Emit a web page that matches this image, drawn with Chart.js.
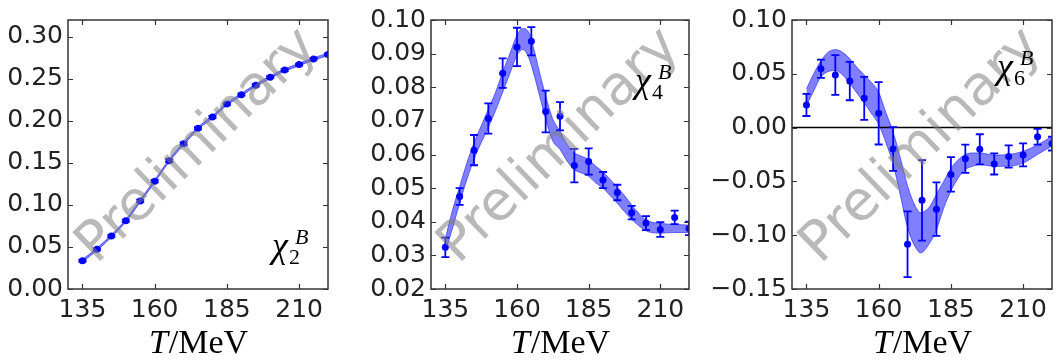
<!DOCTYPE html>
<html>
<head>
<meta charset="utf-8">
<script src="https://cdn.jsdelivr.net/npm/chart.js@4.4.1/dist/chart.umd.min.js"></script>
<style>
  body { margin: 0; background: #fff; }
  #wrap { position: relative; width: 1061px; height: 364px; overflow: hidden; }
  canvas { position: absolute; top: 0; }
</style>
</head>
<body>
<div id="wrap">
  <canvas id="c2b" width="340" height="364" style="left:0px"></canvas>
  <canvas id="c4b" width="355" height="364" style="left:340px"></canvas>
  <canvas id="c6b" width="366" height="364" style="left:695px"></canvas>
</div>
<script>
// temperatures of the lattice points (MeV)
let temps = [135, 140, 145, 150, 155, 160, 165, 170, 175, 180, 185, 190, 195, 200, 205, 210, 215, 220];

let xTicks = [135, 160, 185, 210];

// chi2
let chi2Vals = [0.0336, 0.0472, 0.0630, 0.0812, 0.1048, 0.1283, 0.1527, 0.1728, 0.1913, 0.2045, 0.2200, 0.2312, 0.2424, 0.2520, 0.2605, 0.2670, 0.2737, 0.2790];
let chi2Errs = [0.0012, 0.0012, 0.0012, 0.0013, 0.0015, 0.0015, 0.0015, 0.0015, 0.0013, 0.0013, 0.0012, 0.0012, 0.0012, 0.0012, 0.0012, 0.0012, 0.0012, 0.0012];
let chi2BandLow = [0.0322, 0.0457, 0.0615, 0.0797, 0.1032, 0.1268, 0.1512, 0.1713, 0.1898, 0.2030, 0.2185, 0.2297, 0.2409, 0.2505, 0.2590, 0.2655, 0.2722, 0.2775];
let chi2BandHigh = [0.0350, 0.0487, 0.0645, 0.0827, 0.1064, 0.1298, 0.1542, 0.1743, 0.1928, 0.2060, 0.2215, 0.2327, 0.2439, 0.2535, 0.2620, 0.2685, 0.2752, 0.2805];
let chi2Ticks = [0, 0.05, 0.10, 0.15, 0.20, 0.25, 0.30];
let chi2TickLabels = ["0.00", "0.05", "0.10", "0.15", "0.20", "0.25", "0.30"];

// chi4
let chi4Vals = [0.0324, 0.0475, 0.0613, 0.0707, 0.0842, 0.0920, 0.0937, 0.0728, 0.0714, 0.0567, 0.0579, 0.0524, 0.0487, 0.0427, 0.0396, 0.0377, 0.0413, 0.0380];
let chi4Errs = [0.0029, 0.0025, 0.0045, 0.0045, 0.0044, 0.0057, 0.0042, 0.0062, 0.0042, 0.0050, 0.0039, 0.0024, 0.0023, 0.0020, 0.0021, 0.0022, 0.0020, 0.0020];
let chi4BandT = [135, 137.5, 140, 142.5, 145, 147.5, 150, 152.5, 155, 157.5, 160, 162, 164, 166, 168, 170, 172.5, 175, 177.5, 180, 182.5, 185, 187.5, 190, 192.5, 195, 197.5, 200, 202.5, 205, 207.5, 210, 215, 220];
let chi4BandLow = [0.0310, 0.0380, 0.0455, 0.0525, 0.0585, 0.0635, 0.0680, 0.0730, 0.0785, 0.0840, 0.0895, 0.0912, 0.0890, 0.0835, 0.0770, 0.0705, 0.0640, 0.0615, 0.0580, 0.0555, 0.0545, 0.0535, 0.0515, 0.0500, 0.0478, 0.0455, 0.0430, 0.0407, 0.0388, 0.0373, 0.0367, 0.0366, 0.0368, 0.0368];
let chi4BandHigh = [0.0350, 0.0435, 0.0505, 0.0575, 0.0635, 0.0685, 0.0735, 0.0785, 0.0845, 0.0900, 0.0955, 0.0975, 0.0965, 0.0910, 0.0840, 0.0775, 0.0705, 0.0670, 0.0630, 0.0605, 0.0595, 0.0585, 0.0565, 0.0548, 0.0526, 0.0502, 0.0478, 0.0450, 0.0425, 0.0405, 0.0398, 0.0395, 0.0392, 0.0390];
let chi4Ticks = [0.02, 0.03, 0.04, 0.05, 0.06, 0.07, 0.08, 0.09, 0.10];
let chi4TickLabels = ["0.02", "0.03", "0.04", "0.05", "0.06", "0.07", "0.08", "0.09", "0.10"];

// chi6
let chi6Vals = [0.0211, 0.0547, 0.0489, 0.0432, 0.0272, 0.0133, -0.0199, -0.1084, -0.0676, -0.0758, -0.0435, -0.0290, -0.0202, -0.0338, -0.0269, -0.0254, -0.0085, -0.0148];
let chi6Errs = [0.0103, 0.0085, 0.0184, 0.0178, 0.0200, 0.0290, 0.0204, 0.0306, 0.0374, 0.0249, 0.0160, 0.0131, 0.0140, 0.0098, 0.0103, 0.0107, 0.0074, 0.0065];
let chi6BandT = [135, 137.5, 140, 142.5, 145, 147.5, 150, 152.5, 155, 157.5, 160, 162.5, 165, 167.5, 170, 172.5, 174.5, 177.5, 180, 182.5, 185, 187.5, 190, 192.5, 195, 200, 205, 210, 215, 220];
let chi6BandLow = [0.020, 0.034, 0.047, 0.052, 0.053, 0.049, 0.041, 0.032, 0.023, 0.013, 0.003, -0.014, -0.034, -0.063, -0.093, -0.110, -0.1165, -0.108, -0.095, -0.075, -0.059, -0.047, -0.039, -0.036, -0.0345, -0.036, -0.036, -0.033, -0.025, -0.017];
let chi6BandHigh = [0.036, 0.050, 0.062, 0.070, 0.0725, 0.070, 0.064, 0.056, 0.049, 0.042, 0.033, 0.014, -0.004, -0.028, -0.054, -0.072, -0.079, -0.074, -0.062, -0.050, -0.038, -0.030, -0.025, -0.0235, -0.0235, -0.0255, -0.025, -0.022, -0.016, -0.008];
let chi6Ticks = [-0.15, -0.10, -0.05, 0, 0.05, 0.10];
let chi6TickLabels = ["\u22120.15", "\u22120.10", "\u22120.05", "0.00", "0.05", "0.10"];

let blau = "#0000ff";
let bandaColor = "rgba(0, 0, 255, 0.5)";
let marcColor = "#333333";

// frame, inward ticks, zero line, watermark, labels, error bars
let extres = {
    id: "extres",
    afterDatasetsDraw(chart) {
        let ctx = chart.ctx;
        let a = chart.chartArea;
        let cfg = chart.options.plugins.extres;
        let xs = chart.scales.x;
        let ys = chart.scales.y;

        ctx.save();
        ctx.beginPath();
        ctx.rect(a.left, a.top, a.right - a.left, a.bottom - a.top);
        ctx.clip();

        if (cfg.zeroLine) {
            let y0 = ys.getPixelForValue(0);
            ctx.strokeStyle = "#000";
            ctx.lineWidth = 1.5;
            ctx.beginPath();
            ctx.moveTo(a.left, y0);
            ctx.lineTo(a.right, y0);
            ctx.stroke();
        }

        // error bars
        ctx.strokeStyle = blau;
        ctx.lineWidth = 1.8;
        for (let i = 0; i < cfg.vals.length; i++) {
            let px = xs.getPixelForValue(temps[i]);
            let top = ys.getPixelForValue(cfg.vals[i] + cfg.errs[i]);
            let bot = ys.getPixelForValue(cfg.vals[i] - cfg.errs[i]);
            ctx.beginPath();
            ctx.moveTo(px, top);
            ctx.lineTo(px, bot);
            ctx.moveTo(px - 4, top);
            ctx.lineTo(px + 4, top);
            ctx.moveTo(px - 4, bot);
            ctx.lineTo(px + 4, bot);
            ctx.stroke();
        }

        // watermark
        ctx.translate((a.left + a.right) / 2, (a.top + a.bottom) / 2 - 8);
        ctx.rotate(-44 * Math.PI / 180);
        ctx.font = "55px 'DejaVu Sans'";
        ctx.fillStyle = "rgba(128, 128, 128, 0.55)";
        ctx.textAlign = "center";
        ctx.textBaseline = "middle";
        ctx.fillText("Preliminary", 0, 0);
        ctx.restore();
    },
    afterDraw(chart) {
        let ctx = chart.ctx;
        let a = chart.chartArea;
        let cfg = chart.options.plugins.extres;
        let xs = chart.scales.x;
        let ys = chart.scales.y;

        ctx.save();
        ctx.strokeStyle = marcColor;
        ctx.lineWidth = 1.5;
        ctx.strokeRect(a.left, a.top, a.right - a.left, a.bottom - a.top);

        ctx.lineWidth = 1.2;
        ctx.beginPath();
        for (let v of xTicks) {
            let px = Math.round(xs.getPixelForValue(v)) + 0.5;
            ctx.moveTo(px, a.bottom);
            ctx.lineTo(px, a.bottom - 5);
            ctx.moveTo(px, a.top);
            ctx.lineTo(px, a.top + 5);
        }
        for (let v of cfg.yTicks) {
            let py = Math.round(ys.getPixelForValue(v)) + 0.5;
            ctx.moveTo(a.left, py);
            ctx.lineTo(a.left + 5, py);
            ctx.moveTo(a.right, py);
            ctx.lineTo(a.right - 5, py);
        }
        ctx.stroke();

        // chi label
        let lx = a.right - cfg.labelDx;
        let ly = a.top + cfg.labelDy;
        ctx.fillStyle = "#000";
        ctx.textAlign = "left";
        ctx.textBaseline = "alphabetic";
        ctx.font = "italic 36px 'Liberation Serif'";
        ctx.fillText("\u03c7", lx, ly - 7);
        ctx.font = "22px 'Liberation Serif'";
        ctx.fillText(cfg.sub, lx + 17, ly);
        ctx.font = "italic 22px 'Liberation Serif'";
        ctx.fillText("B", lx + 23, ly - 20);

        // x title
        ctx.font = "italic 34px 'Liberation Serif'";
        let wT = ctx.measureText("T").width;
        ctx.font = "34px 'Liberation Serif'";
        let wR = ctx.measureText("/MeV").width;
        let x0 = (a.left + a.right) / 2 - (wT + wR) / 2;
        ctx.font = "italic 34px 'Liberation Serif'";
        ctx.fillText("T", x0, 353);
        ctx.font = "34px 'Liberation Serif'";
        ctx.fillText("/MeV", x0 + wT + 1, 353);
        ctx.restore();
    }
};

function ferPanell(id, p) {
    let punts = [];
    for (let i = 0; i < temps.length; i++) {
        punts.push({ x: temps[i], y: p.vals[i] });
    }
    let baix = [];
    let dalt = [];
    for (let i = 0; i < p.bandT.length; i++) {
        baix.push({ x: p.bandT[i], y: p.low[i] });
        dalt.push({ x: p.bandT[i], y: p.high[i] });
    }

    new Chart(document.getElementById(id), {
        type: "scatter",
        data: {
            datasets: [{
                data: punts,
                pointRadius: 3.5,
                pointBackgroundColor: blau,
                pointBorderWidth: 0,
                showLine: false
            }, {
                data: baix,
                showLine: true,
                borderColor: bandaColor,
                borderWidth: 1,
                pointRadius: 0,
                cubicInterpolationMode: "monotone",
                fill: false
            }, {
                data: dalt,
                showLine: true,
                borderColor: bandaColor,
                borderWidth: 1,
                pointRadius: 0,
                cubicInterpolationMode: "monotone",
                backgroundColor: bandaColor,
                fill: "-1"
            }]
        },
        options: {
            responsive: false,
            animation: false,
            events: [],
            layout: { padding: { top: 13, right: p.padRight, left: 0, bottom: 0 } },
            plugins: {
                legend: { display: false },
                tooltip: { enabled: false },
                extres: {
                    vals: p.vals, errs: p.errs, yTicks: p.yTicks, sub: p.sub,
                    labelDx: p.labelDx, labelDy: p.labelDy, zeroLine: p.zeroLine
                }
            },
            scales: {
                x: {
                    type: "linear",
                    min: 130,
                    max: 220,
                    grid: { display: false, drawTicks: false, tickLength: 0 },
                    border: { display: false },
                    afterBuildTicks: (s) => { s.ticks = xTicks.map(v => ({ value: v })); },
                    afterFit: (s) => { s.height = 75; },
                    ticks: {
                        padding: 6,
                        color: "#222",
                        font: { family: "DejaVu Sans", size: 25 },
                        callback: (v) => String(v)
                    }
                },
                y: {
                    min: p.yMin,
                    max: p.yMax,
                    grid: { display: false, drawTicks: false, tickLength: 0 },
                    border: { display: false },
                    afterBuildTicks: (s) => { s.ticks = p.yTicks.map(v => ({ value: v })); },
                    afterFit: (s) => { s.width = p.yWidth; },
                    ticks: {
                        padding: 5,
                        color: "#222",
                        font: { family: "DejaVu Sans", size: 25 },
                        callback: (v) => {
                            let k = p.yTicks.findIndex(t => Math.abs(t - v) < 1e-9);
                            return k >= 0 ? p.yLabels[k] : "";
                        }
                    }
                }
            }
        },
        plugins: [extres]
    });
}

ferPanell("c2b", {
    vals: chi2Vals, errs: chi2Errs, bandT: temps, low: chi2BandLow, high: chi2BandHigh,
    yMin: 0, yMax: 0.32, yTicks: chi2Ticks, yLabels: chi2TickLabels,
    yWidth: 68, padRight: 12, sub: "2", labelDx: 56, labelDy: 244, zeroLine: false
});
ferPanell("c4b", {
    vals: chi4Vals, errs: chi4Errs, bandT: chi4BandT, low: chi4BandLow, high: chi4BandHigh,
    yMin: 0.02, yMax: 0.10, yTicks: chi4Ticks, yLabels: chi4TickLabels,
    yWidth: 91, padRight: 6, sub: "4", labelDx: 54, labelDy: 79, zeroLine: false
});
ferPanell("c6b", {
    vals: chi6Vals, errs: chi6Errs, bandT: chi6BandT, low: chi6BandLow, high: chi6BandHigh,
    yMin: -0.15, yMax: 0.10, yTicks: chi6Ticks, yLabels: chi6TickLabels,
    yWidth: 97, padRight: 9, sub: "6", labelDx: 55, labelDy: 65, zeroLine: true
});
</script>
</body>
</html>
